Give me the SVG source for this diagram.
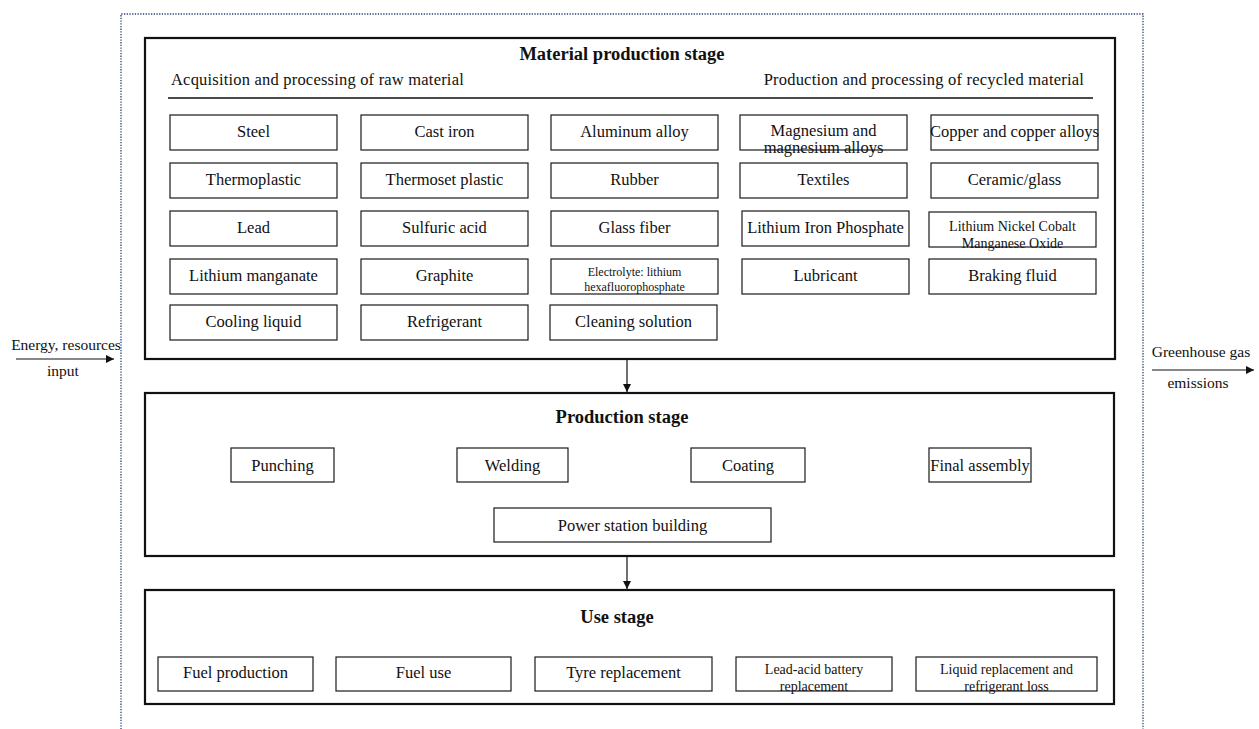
<svg xmlns="http://www.w3.org/2000/svg" width="1259" height="729" viewBox="0 0 1259 729">
  <style>
    text { font-family: "Liberation Serif", "Times New Roman", serif; fill: #111; }
    .t { font-size: 16.5px; text-anchor: middle; }
    .s14 { font-size: 14px; text-anchor: middle; }
    .s12 { font-size: 12px; text-anchor: middle; }
    .h { font-size: 18.5px; font-weight: bold; text-anchor: middle; }
    .sub { font-size: 16.5px; letter-spacing: 0.2px; }
    .side { font-size: 15.5px; text-anchor: middle; }
    .stage { fill: none; stroke: #111; stroke-width: 2.2; }
    .box { fill: none; stroke: #1a1a1a; stroke-width: 1.2; }
    .frame { fill: none; stroke: #2d3f7a; stroke-width: 1.3; stroke-dasharray: 1.3 1.4; }
    .link { fill: none; stroke: #111; stroke-width: 1.2; }
  </style>
  <defs>
    <marker id="arrow" viewBox="0 0 10 10" refX="10" refY="5" markerWidth="8" markerHeight="8" markerUnits="userSpaceOnUse" orient="auto">
      <path d="M0,0 L10,5 L0,10 z" fill="#111"/>
    </marker>
  </defs>
  <rect width="1259" height="729" fill="#fff"/>

  <!-- system boundary (dotted) -->
  <path class="frame" d="M121,740 V14 H1143 V740"/>

  <!-- Material production stage -->
  <g id="material-stage">
    <rect class="stage" x="145" y="38" width="970" height="321"/>
    <text class="h" x="622" y="60">Material production stage</text>
    <text class="sub" x="171" y="85">Acquisition and processing of raw material</text>
    <text class="sub" x="1084" y="85" text-anchor="end">Production and processing of recycled material</text>
    <line x1="168" y1="98" x2="1093" y2="98" stroke="#111" stroke-width="1.4"/>
  </g>

  <g id="steel"><rect class="box" x="170" y="115" width="167" height="35"/><text class="t" x="253.5" y="137">Steel</text></g>
  <g id="cast-iron"><rect class="box" x="361" y="115" width="167" height="35"/><text class="t" x="444.5" y="137">Cast iron</text></g>
  <g id="aluminum-alloy"><rect class="box" x="551" y="115" width="167" height="35"/><text class="t" x="634.5" y="137">Aluminum alloy</text></g>
  <g id="magnesium"><rect class="box" x="740" y="115" width="167" height="35"/><text class="t" x="823.5" y="136">Magnesium and</text><text class="t" x="823.5" y="153">magnesium alloys</text></g>
  <g id="copper"><rect class="box" x="931" y="115" width="167" height="35"/><text class="t" x="1014.5" y="137">Copper and copper alloys</text></g>

  <g id="thermoplastic"><rect class="box" x="170" y="163" width="167" height="35"/><text class="t" x="253.5" y="185">Thermoplastic</text></g>
  <g id="thermoset"><rect class="box" x="361" y="163" width="167" height="35"/><text class="t" x="444.5" y="185">Thermoset plastic</text></g>
  <g id="rubber"><rect class="box" x="551" y="163" width="167" height="35"/><text class="t" x="634.5" y="185">Rubber</text></g>
  <g id="textiles"><rect class="box" x="740" y="163" width="167" height="35"/><text class="t" x="823.5" y="185">Textiles</text></g>
  <g id="ceramic"><rect class="box" x="931" y="163" width="167" height="35"/><text class="t" x="1014.5" y="185">Ceramic/glass</text></g>

  <g id="lead"><rect class="box" x="170" y="211" width="167" height="35"/><text class="t" x="253.5" y="233">Lead</text></g>
  <g id="sulfuric-acid"><rect class="box" x="361" y="211" width="167" height="35"/><text class="t" x="444.5" y="233">Sulfuric acid</text></g>
  <g id="glass-fiber"><rect class="box" x="551" y="211" width="167" height="35"/><text class="t" x="634.5" y="233">Glass fiber</text></g>
  <g id="lfp"><rect class="box" x="742" y="211" width="167" height="35"/><text class="t" x="825.5" y="233">Lithium Iron Phosphate</text></g>
  <g id="ncm"><rect class="box" x="929" y="212" width="167" height="35"/><text class="s14" x="1012.5" y="231">Lithium Nickel Cobalt</text><text class="s14" x="1012.5" y="248">Manganese Oxide</text></g>

  <g id="lithium-manganate"><rect class="box" x="170" y="259" width="167" height="35"/><text class="t" x="253.5" y="281">Lithium manganate</text></g>
  <g id="graphite"><rect class="box" x="361" y="259" width="167" height="35"/><text class="t" x="444.5" y="281">Graphite</text></g>
  <g id="electrolyte"><rect class="box" x="551" y="259" width="167" height="35"/><text class="s12" x="634.5" y="275.5">Electrolyte: lithium</text><text class="s12" x="634.5" y="290.5">hexafluorophosphate</text></g>
  <g id="lubricant"><rect class="box" x="742" y="259" width="167" height="35"/><text class="t" x="825.5" y="281">Lubricant</text></g>
  <g id="braking-fluid"><rect class="box" x="929" y="259" width="167" height="35"/><text class="t" x="1012.5" y="281">Braking fluid</text></g>

  <g id="cooling-liquid"><rect class="box" x="170" y="305" width="167" height="35"/><text class="t" x="253.5" y="327">Cooling liquid</text></g>
  <g id="refrigerant"><rect class="box" x="361" y="305" width="167" height="35"/><text class="t" x="444.5" y="327">Refrigerant</text></g>
  <g id="cleaning-solution"><rect class="box" x="550" y="305" width="167" height="35"/><text class="t" x="633.5" y="327">Cleaning solution</text></g>

  <!-- Production stage -->
  <g id="production-stage">
    <rect class="stage" x="145" y="393" width="969" height="163"/>
    <text class="h" x="622" y="423">Production stage</text>
  </g>
  <g id="punching"><rect class="box" x="231" y="448" width="103" height="34"/><text class="t" x="282.5" y="470.5">Punching</text></g>
  <g id="welding"><rect class="box" x="457" y="448" width="111" height="34"/><text class="t" x="512.5" y="470.5">Welding</text></g>
  <g id="coating"><rect class="box" x="691" y="448" width="114" height="34"/><text class="t" x="748" y="470.5">Coating</text></g>
  <g id="final-assembly"><rect class="box" x="929" y="448" width="102" height="34"/><text class="t" x="980" y="470.5">Final assembly</text></g>
  <g id="power-station"><rect class="box" x="494" y="508" width="277" height="34"/><text class="t" x="632.5" y="530.5">Power station building</text></g>

  <!-- Use stage -->
  <g id="use-stage">
    <rect class="stage" x="145" y="590" width="969" height="114"/>
    <text class="h" x="617" y="623">Use stage</text>
  </g>
  <g id="fuel-production"><rect class="box" x="158" y="657" width="155" height="34"/><text class="t" x="235.5" y="678">Fuel production</text></g>
  <g id="fuel-use"><rect class="box" x="336" y="657" width="175" height="34"/><text class="t" x="423.5" y="678">Fuel use</text></g>
  <g id="tyre-replacement"><rect class="box" x="535" y="657" width="177" height="34"/><text class="t" x="623.5" y="678">Tyre replacement</text></g>
  <g id="battery-replacement"><rect class="box" x="736" y="657" width="156" height="34"/><text class="s14" x="814" y="674">Lead-acid battery</text><text class="s14" x="814" y="691">replacement</text></g>
  <g id="liquid-replacement"><rect class="box" x="916" y="657" width="181" height="34"/><text class="s14" x="1006.5" y="674">Liquid replacement and</text><text class="s14" x="1006.5" y="691">refrigerant loss</text></g>

  <!-- Boundary flows -->
  <g id="input-label">
    <text class="side" x="66" y="350">Energy, resources</text>
    <text class="side" x="63" y="376">input</text>
  </g>
  <g id="output-label">
    <text class="side" x="1201" y="357">Greenhouse gas</text>
    <text class="side" x="1198" y="388">emissions</text>
  </g>

  <!-- connectors -->
  <g id="connectors">
    <line class="link" x1="16" y1="359" x2="114" y2="359" marker-end="url(#arrow)"/>
    <line class="link" x1="1152" y1="370" x2="1254" y2="370" marker-end="url(#arrow)"/>
    <line class="link" x1="627" y1="360" x2="627" y2="392" marker-end="url(#arrow)"/>
    <line class="link" x1="627" y1="557" x2="627" y2="589" marker-end="url(#arrow)"/>
  </g>
</svg>
